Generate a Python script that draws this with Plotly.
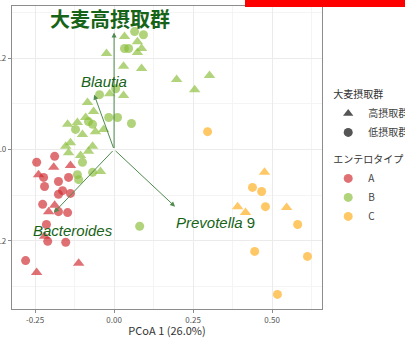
import plotly.graph_objects as go

# --- PCoA sample coordinates, by enterotype and barley intake group ---
a_high_x = [-0.191, -0.138, -0.239, -0.188, -0.207, -0.220, -0.245, -0.112]
a_high_y = [-0.039, -0.035, -0.055, -0.122, -0.136, -0.190, -0.269, -0.249]
a_low_x = [-0.188, -0.245, -0.223, -0.176, -0.144, -0.220, -0.163, -0.138,
           -0.176, -0.226, -0.147, -0.176, -0.214, -0.210, -0.153, -0.280]
a_low_y = [-0.015, -0.028, -0.061, -0.070, -0.061, -0.081, -0.090, -0.096,
           -0.098, -0.120, -0.138, -0.136, -0.164, -0.201, -0.203, -0.243]

b_high_x = [0.033, 0.074, 0.087, 0.074, -0.024, 0.030, 0.087, 0.198, 0.255,
            0.302, -0.014, 0.030, -0.084, -0.065, -0.147, -0.116, -0.090,
            -0.059, -0.033, -0.100, -0.138, -0.153, -0.068, -0.081, -0.106,
            -0.144, -0.043]
b_high_y = [0.247, 0.236, 0.221, 0.212, 0.210, 0.182, 0.177, 0.153, 0.131,
            0.162, 0.122, 0.118, 0.103, 0.083, 0.055, 0.059, 0.070, 0.039,
            0.044, 0.033, 0.015, 0.007, 0.007, -0.004, -0.013, -0.007, -0.048]
b_low_x = [0.065, 0.093, 0.033, 0.046, -0.046, 0.005, -0.017, 0.011, 0.055,
           -0.122, -0.081, -0.068, -0.100, -0.116, -0.112, -0.068, 0.081]
b_low_y = [0.258, 0.251, 0.221, 0.221, 0.120, 0.133, 0.070, 0.070, 0.057,
           0.044, 0.061, 0.055, -0.028, -0.055, -0.066, -0.050, -0.168]

c_high_x = [0.476, 0.391, 0.416, 0.546]
c_high_y = [-0.050, -0.125, -0.138, -0.127]
c_low_x = [0.296, 0.438, 0.467, 0.479, 0.581, 0.445, 0.612, 0.517]
c_low_y = [0.039, -0.083, -0.092, -0.125, -0.164, -0.223, -0.234, -0.317]

# --- fitted taxon / factor vectors (from the origin) ---
vec_names = ["<b>大麦高摂取群</b>", "<i>Blautia</i>", "<i>Bacteroides</i>", "<i>Prevotella</i> 9"]
vec_x = [0.0, -0.063, -0.190, 0.193]
vec_y = [0.256, 0.120, -0.138, -0.125]
label_x = [-0.014, -0.033, -0.131, 0.321]
label_y = [0.284, 0.149, -0.177, -0.160]
label_size = [20, 15, 15, 15]

type_names = ["A", "B", "C"]
type_colors = ["rgba(208,45,50,0.68)", "rgba(140,190,60,0.68)", "rgba(255,185,60,0.78)"]
intake_names = ["高摂取群", "低摂取群"]

groups = [
    (a_high_x, a_high_y, a_low_x, a_low_y),
    (b_high_x, b_high_y, b_low_x, b_low_y),
    (c_high_x, c_high_y, c_low_x, c_low_y),
]

fig = go.Figure()

for (hx, hy, lx, ly), col in zip(groups, type_colors):
    fig.add_trace(go.Scatter(x=lx, y=ly, mode="markers", showlegend=False,
                             marker=dict(symbol="circle", size=9, color=col)))
    fig.add_trace(go.Scatter(x=hx, y=hy, mode="markers", showlegend=False,
                             marker=dict(symbol="triangle-up", size=10, color=col)))

# legend entries
for name, sym in zip(intake_names, ["triangle-up", "circle"]):
    fig.add_trace(go.Scatter(x=[None], y=[None], mode="markers", name=name,
                             legendgroup="intake",
                             legendgrouptitle=dict(text="大麦摂取群"),
                             marker=dict(symbol=sym, size=9, color="#555555")))
for name, col in zip(type_names, type_colors):
    fig.add_trace(go.Scatter(x=[None], y=[None], mode="markers", name=name,
                             legendgroup="type",
                             legendgrouptitle=dict(text="エンテロタイプ"),
                             marker=dict(symbol="circle", size=9, color=col)))

annotations = []
for vx, vy in zip(vec_x, vec_y):
    annotations.append(dict(x=vx, y=vy, ax=0, ay=0, xref="x", yref="y",
                            axref="x", ayref="y", showarrow=True, text="",
                            arrowhead=2, arrowsize=1, arrowwidth=1,
                            arrowcolor="#4f8a4f"))
for name, tx, ty, fs in zip(vec_names, label_x, label_y, label_size):
    annotations.append(dict(x=tx, y=ty, xref="x", yref="y", text=name,
                            showarrow=False,
                            font=dict(family="Liberation Sans, Noto Sans CJK JP",
                                      size=fs, color="#176317")))

fig.update_layout(
    width=405, height=338,
    margin=dict(l=12, r=83, t=6, b=29, autoexpand=False),
    paper_bgcolor="white", plot_bgcolor="white",
    font=dict(family="Noto Sans CJK JP, Liberation Sans", color="#444444"),
    annotations=annotations,
    legend=dict(x=1.02, y=0.756, xanchor="left", yanchor="top",
                font=dict(size=10, color="#444444"),
                grouptitlefont=dict(size=10, color="#333333"),
                tracegroupgap=8, itemwidth=30,
                bgcolor="rgba(0,0,0,0)"),
    shapes=[dict(type="rect", xref="paper", yref="paper",
                 x0=0.7516, x1=1.27, y0=0.9967, y1=1.03,
                 fillcolor="#ff0000", line=dict(width=0), layer="above")],
)

fig.update_xaxes(range=[-0.323, 0.658], tickvals=[-0.25, 0, 0.25, 0.5],
                 ticktext=["-0.25", "0.00", "0.25", "0.50"],
                 showgrid=True, gridcolor="#ebebeb", gridwidth=1,
                 minor=dict(dtick=0.125, tick0=0.125, showgrid=True,
                            gridcolor="#f4f4f4", gridwidth=1),
                 zeroline=False, showline=True, mirror=True,
                 linecolor="#8c8c8c", linewidth=1.2,
                 ticks="outside", ticklen=3, tickcolor="#8c8c8c",
                 tickfont=dict(size=8, color="#555555"),
                 automargin=False,
                 title=dict(text="PCoA 1 (26.0%)", standoff=4,
                            font=dict(size=11, color="#333333")))
fig.update_yaxes(range=[-0.349, 0.314], tickvals=[-0.2, 0, 0.2],
                 ticktext=["-0.2", "0.0", "0.2"],
                 showgrid=True, gridcolor="#ebebeb", gridwidth=1,
                 minor=dict(dtick=0.2, tick0=0.1, showgrid=True,
                            gridcolor="#f4f4f4", gridwidth=1),
                 zeroline=False, showline=True, mirror=True,
                 linecolor="#8c8c8c", linewidth=1.2,
                 ticks="outside", ticklen=3, tickcolor="#8c8c8c",
                 tickfont=dict(size=8, color="#555555"),
                 automargin=False)

fig.write_html("out.html")
